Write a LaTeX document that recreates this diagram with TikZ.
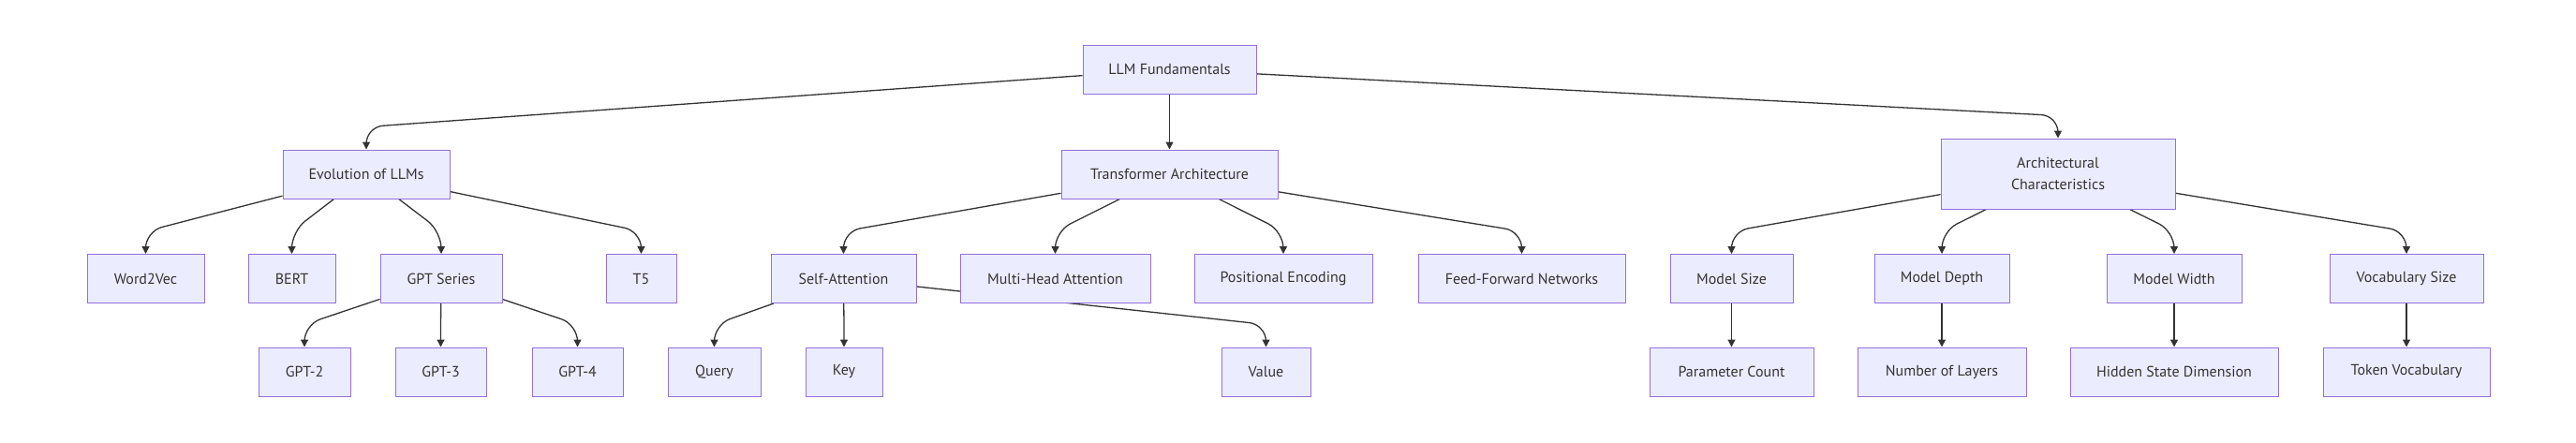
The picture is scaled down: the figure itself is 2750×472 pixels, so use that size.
\documentclass[tikz,border=0pt]{standalone}
\usepackage{fontspec}
\setmainfont{PT Sans}
\usetikzlibrary{arrows.meta,backgrounds}

\definecolor{boxfill}{HTML}{ECECFF}
\definecolor{boxline}{HTML}{9370DB}
\definecolor{ink}{HTML}{333333}

\tikzset{
  box/.style={draw=boxline, fill=boxfill, line width=1pt, text=ink,
    minimum height=52pt, inner xsep=4pt, align=center,
    font=\fontsize{16}{23}\selectfont},
  link/.style={draw=ink, line width=1.3pt, rounded corners=18pt,
    -{Triangle[length=8pt,width=8pt]}},
}

\begin{document}
\begin{tikzpicture}[x=1pt,y=-1pt]
  \useasboundingbox (0,0) rectangle (2750,472);

  % root
  \node[box, minimum width=185pt] (llm) at (1248.5,74) {LLM Fundamentals};

  % main branches
  \node[box, minimum width=178pt] (evo) at (391,186) {Evolution of LLMs};
  \node[box, minimum width=231pt] (trans) at (1248.5,186) {Transformer Architecture};
  \node[box, minimum width=250pt, minimum height=75pt] (arch) at (2197,185.5) {Architectural\\Characteristics};

  % second row
  \foreach \nm/\xx/\ww/\txt in {
      w2v/155.5/125/Word2Vec, bert/311.5/93/BERT, gpts/471/130/GPT Series,
      t5/684.5/75/T5, selfatt/900.5/155/Self-Attention,
      multihead/1126.5/203/Multi-Head Attention, posenc/1370/190/Positional Encoding,
      ffn/1624.5/221/Feed-Forward Networks, msize/1848.5/131/Model Size,
      mdepth/2073/144/Model Depth, mwidth/2321/144/Model Width,
      vocab/2569/164/Vocabulary Size} {
    \node[box, minimum width=\ww pt] (\nm) at (\xx,297.5) {\txt};
  }

  % third row
  \foreach \nm/\xx/\ww/\txt in {
      gpt2/325/98/GPT-2, gpt3/470.5/97/GPT-3, gpt4/616.5/97/GPT-4,
      query/762.5/99/Query, key/901/82/Key, value/1351.5/95/Value,
      params/1848.5/175/Parameter Count, layers/2073/180/Number of Layers,
      hidden/2321/222/Hidden State Dimension, tokens/2569/178/Token Vocabulary} {
    \node[box, minimum width=\ww pt] (\nm) at (\xx,397) {\txt};
  }

  % links, kept behind the boxes
  \begin{scope}[on background layer]
    \foreach \p/\c in {llm/evo, llm/trans, llm/arch,
        evo/w2v, evo/bert, evo/gpts, evo/t5, gpts/gpt2, gpts/gpt3, gpts/gpt4,
        trans/selfatt, trans/multihead, trans/posenc, trans/ffn,
        selfatt/query, selfatt/key, selfatt/value,
        arch/msize, arch/mdepth, arch/mwidth, arch/vocab,
        msize/params, mdepth/layers, mwidth/hidden, vocab/tokens} {
      \draw[link] (\p) -- ([yshift=24pt]\c.north) -- (\c);
    }
  \end{scope}
\end{tikzpicture}
\end{document}
